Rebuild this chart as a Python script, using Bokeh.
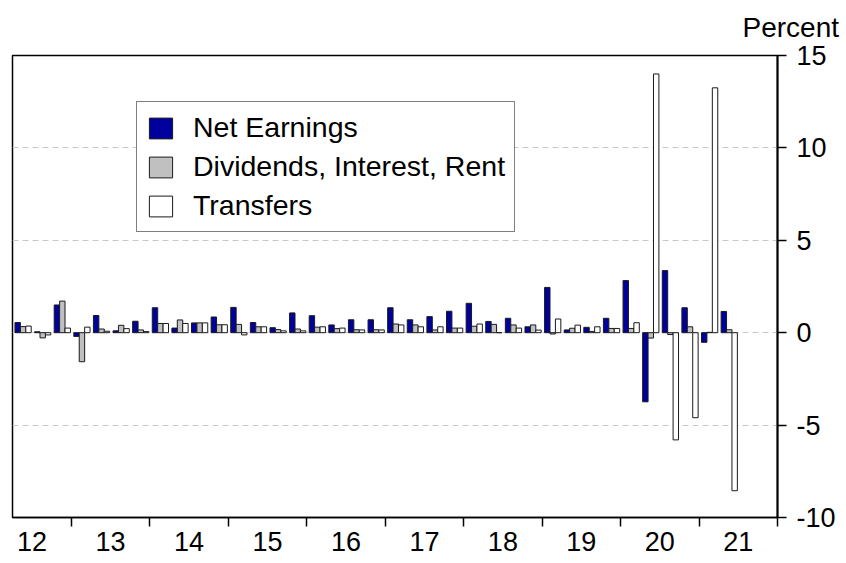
from bokeh.plotting import figure
from bokeh.models import (Range1d, LinearAxis, FixedTicker, Legend, LegendItem,
                          Title, ColumnDataSource, Grid)
from bokeh.embed import file_html
from bokeh.resources import INLINE

# ---- data (percent change, quarterly) ----
quarters = ["2012Q2", "2012Q3", "2012Q4",
            "2013Q1", "2013Q2", "2013Q3", "2013Q4",
            "2014Q1", "2014Q2", "2014Q3", "2014Q4",
            "2015Q1", "2015Q2", "2015Q3", "2015Q4",
            "2016Q1", "2016Q2", "2016Q3", "2016Q4",
            "2017Q1", "2017Q2", "2017Q3", "2017Q4",
            "2018Q1", "2018Q2", "2018Q3", "2018Q4",
            "2019Q1", "2019Q2", "2019Q3", "2019Q4",
            "2020Q1", "2020Q2", "2020Q3", "2020Q4",
            "2021Q1", "2021Q2"]
net_earnings = [0.55, 0.05, 1.50,
                -0.20, 0.93, 0.10, 0.62,
                1.35, 0.25, 0.53, 0.85,
                1.37, 0.55, 0.27, 1.07,
                0.92, 0.42, 0.70, 0.70,
                1.35, 0.70, 0.87, 1.16,
                1.59, 0.61, 0.78, 0.32,
                2.45, 0.15, 0.29, 0.78,
                2.82, -3.74, 3.36, 1.35,
                -0.52, 1.15]
dividends = [0.33, -0.28, 1.71,
             -1.57, 0.20, 0.40, 0.15,
             0.50, 0.69, 0.53, 0.43,
             0.45, 0.32, 0.17, 0.20,
             0.30, 0.22, 0.16, 0.16,
             0.47, 0.42, 0.15, 0.25,
             0.35, 0.45, 0.42, 0.42,
             -0.07, 0.24, 0.07, 0.23,
             0.23, -0.29, -0.10, 0.32,
             0.02, 0.16]
transfers = [0.36, -0.12, 0.25,
             0.30, 0.08, 0.22, 0.06,
             0.50, 0.50, 0.53, 0.43,
             -0.12, 0.32, 0.10, 0.10,
             0.32, 0.25, 0.15, 0.15,
             0.42, 0.32, 0.32, 0.25,
             0.47, 0.00, 0.25, 0.14,
             0.74, 0.41, 0.32, 0.23,
             0.54, 14.00, -5.80, -4.60,
             13.25, -8.55]
year_labels = ["12", "13", "14", "15", "16", "17", "18", "19", "20", "21"]
series_names = ["Net Earnings", "Dividends, Interest, Rent", "Transfers"]
y_ticks = [-10, -5, 0, 5, 10, 15]
y_tick_labels = ["-10", "-5", "0", "5", "10", "15"]
unit_label = "Percent"

FONT = "Liberation Sans"

# quarter centre positions on a decimal-year axis
xc = [int(q[:4]) + (int(q[5]) - 1) / 4 + 0.125 + 0.01 for q in quarters]
bw = 0.069
src = ColumnDataSource(dict(
    x_net=[v - bw for v in xc], x_div=xc, x_tr=[v + bw for v in xc],
    net=net_earnings, div=dividends, tr=transfers))

first_year = 2000 + int(year_labels[0])
last_year = 2000 + int(year_labels[-1])

p = figure(width=840, height=560, output_backend="svg", toolbar_location=None,
           x_range=Range1d(first_year + 0.25, last_year + 1.0),
           y_range=Range1d(y_ticks[0], y_ticks[-1]),
           x_axis_location=None, y_axis_location=None,
           min_border_left=12, min_border_top=55, min_border_right=63,
           min_border_bottom=43)
p.center = [r for r in p.center if not isinstance(r, Grid)]
p.outline_line_color = "black"
p.outline_line_width = 1.5
p.background_fill_color = "white"
p.border_fill_color = "white"

grid = Grid(dimension=1, ticker=FixedTicker(ticks=y_ticks[1:-1]),
            grid_line_color="#C8C8C8", grid_line_dash="6 4", grid_line_width=1)
p.add_layout(grid, "center")

# right y-axis
yax = LinearAxis(ticker=FixedTicker(ticks=y_ticks),
                 major_label_overrides={t: s for t, s in zip(y_ticks, y_tick_labels)})
yax.axis_line_color = "black"
yax.axis_line_width = 2
yax.major_tick_out = 9
yax.major_tick_in = 0
yax.major_tick_line_width = 1.5
yax.minor_tick_line_color = None
yax.major_label_standoff = 10
yax.major_label_text_font = FONT
yax.major_label_text_font_size = "27px"
yax.major_label_text_color = "black"
p.add_layout(yax, "right")

# bottom x-axis: labels at year centres, tick marks at year boundaries
centers = [first_year + i + 0.5 for i in range(len(year_labels))]
bounds = [first_year + i + 1 for i in range(len(year_labels))]
xax = LinearAxis(ticker=FixedTicker(ticks=centers, minor_ticks=bounds),
                 major_label_overrides={c: lab for c, lab in zip(centers, year_labels)})
xax.axis_line_color = "black"
xax.axis_line_width = 1.5
xax.major_tick_line_color = None
xax.major_tick_out = 0
xax.major_tick_in = 0
xax.minor_tick_out = 9
xax.minor_tick_in = 0
xax.minor_tick_line_color = "black"
xax.minor_tick_line_width = 1.5
xax.major_label_standoff = 5
xax.major_label_text_font = FONT
xax.major_label_text_font_size = "27px"
xax.major_label_text_color = "black"
p.add_layout(xax, "below")

outline = "#1a1a1a"
r1 = p.vbar(x="x_net", top="net", bottom=0, width=bw, source=src,
            fill_color="#00009C", line_color=outline, line_width=1)
r2 = p.vbar(x="x_div", top="div", bottom=0, width=bw, source=src,
            fill_color="#C0C0C0", line_color=outline, line_width=1)
r3 = p.vbar(x="x_tr", top="tr", bottom=0, width=bw, source=src,
            fill_color="white", line_color=outline, line_width=1)

legend = Legend(items=[LegendItem(label=series_names[0], renderers=[r1]),
                       LegendItem(label=series_names[1], renderers=[r2]),
                       LegendItem(label=series_names[2], renderers=[r3])],
                location=(124, 285))
legend.label_text_font = FONT
legend.label_text_font_size = "28.5px"
legend.label_text_color = "black"
legend.glyph_width = 29
legend.glyph_height = 26
legend.label_height = 26
legend.label_standoff = 18
legend.spacing = 6
legend.padding = 9
legend.margin = 0
legend.border_line_color = "black"
legend.border_line_width = 1.5
legend.background_fill_color = "white"
legend.background_fill_alpha = 1.0
p.add_layout(legend, "center")

title = Title(text=unit_label, align="left", offset=730, vertical_align="top",
              text_font=FONT, text_font_size="28px", text_font_style="normal",
              text_color="black", standoff=22)
p.add_layout(title, "above")

open("out.html", "w").write(file_html(p, INLINE))
